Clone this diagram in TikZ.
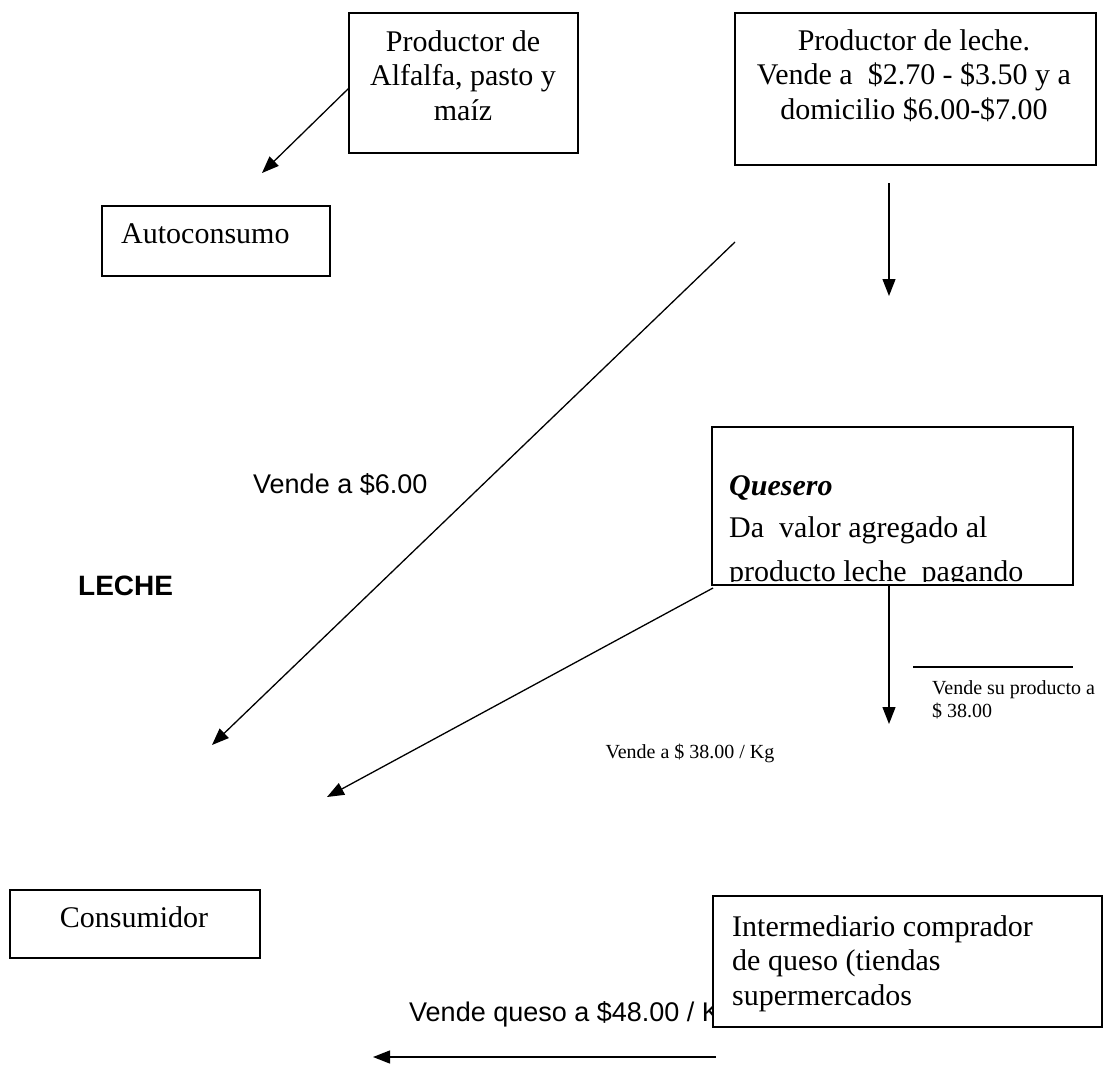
\documentclass[tikz,border=0pt]{standalone}
\usepackage{fontspec}
\setmainfont{Liberation Serif}
\setsansfont{Liberation Sans}
\usetikzlibrary{arrows.meta}
\begin{document}
\begin{tikzpicture}[x=1pt,y=-1pt,
  box/.style={draw, line width=1.8pt, inner sep=0pt, anchor=north west},
  conn/.style={line width=1.3pt, -{Triangle[length=17pt,width=13pt]}},
  plainline/.style={line width=1.3pt},
  serif/.style={font=\fontsize{30}{34.5}\selectfont, inner sep=0pt},
  small/.style={font=\fontsize{20}{23}\selectfont, inner sep=0pt},
  sans/.style={font=\sffamily\fontsize{27}{31}\selectfont, inner sep=0pt}]
\useasboundingbox (0,0) rectangle (1104,1066);

% boxes
\node[box, minimum width=229pt, minimum height=140pt] (alf) at (348,12) {};
\node[serif, align=center, anchor=north] (alft) at (463,30) {Productor de\\Alfalfa, pasto y\\maíz};

\node[box, minimum width=361pt, minimum height=152pt] (lec) at (734,12) {};
\node[serif, align=center, anchor=north] (lect) at (914,29) {Productor de leche.\\Vende a~ \$2.70 - \$3.50 y a\\domicilio \$6.00-\$7.00};

\node[box, minimum width=228pt, minimum height=70pt] (auto) at (101,205) {};
\node[serif, anchor=base west] (autot) at (121,243) {Autoconsumo};

\node[box, minimum width=361pt, minimum height=158pt] (ques) at (711,426) {};
\node[serif, anchor=base west] (quest1) at (729,495) {\textbf{\textit{Quesero}}};
\node[serif, anchor=base west] (quest2) at (729,537) {Da~ valor agregado al};
\begin{scope}
  \clip (711,426) rectangle (1072,581);
  \node[serif, anchor=base west] (quest3) at (729,581) {producto leche~ pagando};
\end{scope}

\node[box, minimum width=250pt, minimum height=68pt] (cons) at (9,889) {};
\node[serif, anchor=base] (const) at (134,927) {Consumidor};

% text partly covered by the intermediario box
\node[sans, anchor=base west] (l48) at (409,1021) {Vende queso a \$48.00 / Kg};
\node[box, fill=white, minimum width=389pt, minimum height=131pt] (inter) at (712,895) {};
\node[serif, align=left, anchor=north west] (intert) at (732,915) {Intermediario comprador\\de queso (tiendas\\supermercados};

% free labels
\node[sans, anchor=base west] (l6) at (253,493) {Vende a \$6.00};
\node[sans, font=\sffamily\bfseries\fontsize{28}{32}\selectfont, anchor=base west] (leche) at (78,595) {LECHE};
\node[small, anchor=base] (l38) at (690,758) {Vende a \$ 38.00 / Kg};
\node[small, align=left, anchor=north west] (l38b) at (932,680) {Vende su producto a\\\$ 38.00};

% connector end points
\coordinate (a1s) at (349,88);
\coordinate (a1e) at (262,173);
\coordinate (a2s) at (889,183);
\coordinate (a2e) at (889,296);
\coordinate (a3s) at (735,242);
\coordinate (a3e) at (212,745);
\coordinate (a4s) at (713,588);
\coordinate (a4e) at (327,797);
\coordinate (a5s) at (889,585);
\coordinate (a5e) at (889,724);
\coordinate (ls) at (913,667);
\coordinate (le) at (1073,667);
\coordinate (a6s) at (716,1057);
\coordinate (a6e) at (373,1057);

\draw[conn] (a1s) -- (a1e);
\draw[conn] (a2s) -- (a2e);
\draw[conn] (a3s) -- (a3e);
\draw[conn] (a4s) -- (a4e);
\draw[conn] (a5s) -- (a5e);
\draw[plainline] (ls) -- (le);
\draw[conn] (a6s) -- (a6e);
\end{tikzpicture}
\end{document}
